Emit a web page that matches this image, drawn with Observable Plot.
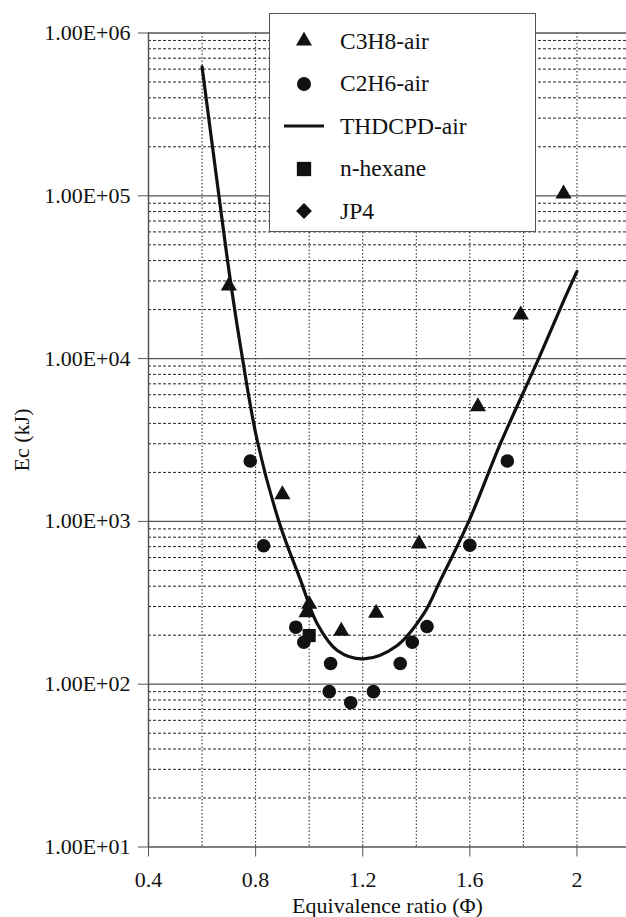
<!DOCTYPE html>
<html>
<head>
<meta charset="utf-8">
<script src="https://cdn.jsdelivr.net/npm/d3@7"></script>
<script src="https://cdn.jsdelivr.net/npm/@observablehq/plot@0.6"></script>
<style>
  html, body { margin: 0; padding: 0; background: white; }
  #wrap { position: relative; width: 626px; height: 917px; overflow: hidden; font-family: 'Liberation Serif'; }
  #chart svg text { font-family: 'Liberation Serif'; }
  #legend {
    position: absolute; left: 269px; top: 13px; width: 267px; height: 219px;
    box-sizing: border-box; border: 1.5px solid #555; background: white;
    font-family: 'Liberation Serif'; font-size: 23.5px; color: #111;
  }
  .item { position: absolute; left: 0; height: 30px; display: flex; align-items: center; }
  .item svg { width: 56px; height: 30px; }
  .item span { margin-left: 14px; }
</style>
</head>
<body>
<div id="wrap">
  <div id="chart"></div>
  <div id="legend"></div>
</div>
<script>
// ---- data ----
const c3h8Phi = [0.70, 0.90, 0.99, 1.00, 1.12, 1.25, 1.41, 1.63, 1.79, 1.95];
const c3h8Ec  = [28000, 1460, 275, 310, 212, 273, 728, 5080, 18600, 103000];

const c2h6Phi = [0.78, 0.83, 0.95, 0.98, 1.08, 1.075, 1.155, 1.24, 1.34, 1.385, 1.44, 1.60, 1.74];
const c2h6Ec  = [2350, 708, 224, 181, 134, 90, 77, 90, 134, 181, 226, 714, 2350];

const hexanePhi = [1.00];
const hexaneEc  = [199];

const thdcpdPhi = [0.60, 0.663, 0.704, 0.751, 0.806, 0.887, 0.968, 1.03, 1.105, 1.204, 1.329, 1.428, 1.49, 1.596, 1.714, 1.857, 1.951, 2.00];
const thdcpdEc  = [620000, 100000, 31600, 10000, 3140, 1000, 434, 235, 161, 143, 173, 271, 434, 1000, 3000, 10000, 22750, 34300];

const xTicks = [0.4, 0.8, 1.2, 1.6, 2];
const xGrid = [0.6, 0.8, 1.0, 1.2, 1.4, 1.6, 1.8, 2.0];
const yDecades = [1e1, 1e2, 1e3, 1e4, 1e5, 1e6];
const yMinor = yDecades.slice(0, -1).flatMap(d => [2,3,4,5,6,7,8,9].map(m => m * d));

const legendLabels = ["C3H8-air", "C2H6-air", "THDCPD-air", "n-hexane", "JP4"];
const legendKinds  = ["triangle", "circle", "line", "square", "diamond"];

// ---- tables ----
const c3h8 = c3h8Phi.map((x, i) => ({x, y: c3h8Ec[i]}));
const c2h6 = c2h6Phi.map((x, i) => ({x, y: c2h6Ec[i]}));
const hexane = hexanePhi.map((x, i) => ({x, y: hexaneEc[i]}));
const thdcpd = thdcpdPhi.map((x, i) => ({x, y: thdcpdEc[i]}));

const fmt = v => {
  const [m, e] = v.toExponential(2).split("e");
  return m + "E" + e[0] + e.slice(1).padStart(2, "0");
};

const ink = "#111";
const chart = Plot.plot({
  width: 626,
  height: 917,
  marginLeft: 148,
  marginRight: 0,
  marginTop: 32.5,
  marginBottom: 70.5,
  style: {fontFamily: "Liberation Serif", fontSize: "22px", color: ink, background: "white", overflow: "visible"},
  x: {domain: [0.4, 2.185]},
  y: {type: "log", domain: [10, 1e6]},
  marks: [
    Plot.ruleY(yMinor, {stroke: "#222", strokeWidth: 1, strokeDasharray: "3,2"}),
    Plot.ruleX(xGrid, {stroke: "#222", strokeWidth: 1, strokeDasharray: "1.5,2"}),
    Plot.ruleY(yDecades, {stroke: "#555", strokeWidth: 1.3}),
    Plot.ruleX([0.4], {stroke: "#555", strokeWidth: 1.5}),
    Plot.axisX({ticks: xTicks, tickSize: 10, tickPadding: 14, stroke: "#555", fontSize: 22, tickFormat: d => String(d),
      label: "Equivalence ratio (Φ)", labelAnchor: "center", labelArrow: "none", labelOffset: 66}),
    Plot.axisY({ticks: yDecades, tickSize: 10, tickPadding: 8, stroke: "#555", fontSize: 22, tickFormat: fmt,
      label: "Ec (kJ)", labelAnchor: "center", labelArrow: "none", labelOffset: 135}),
    Plot.line(thdcpd, {x: "x", y: "y", curve: "catmull-rom", stroke: ink, strokeWidth: 3.2}),
    Plot.dot(c2h6, {x: "x", y: "y", symbol: "circle", r: 6.8, fill: ink}),
    Plot.dot(c3h8, {x: "x", y: "y", symbol: "triangle", r: 6, fill: ink}),
    Plot.dot(hexane, {x: "x", y: "y", symbol: "square", r: 7.4, fill: ink})
  ]
});
document.getElementById("chart").append(chart);

// ---- legend ----
const legend = d3.select("#legend");
const symbolFor = {triangle: d3.symbolTriangle, circle: d3.symbolCircle, square: d3.symbolSquare, diamond: d3.symbolDiamond2};
const sizeFor = {triangle: 110, circle: 155, square: 205, diamond: 160};
legendLabels.forEach((lab, i) => {
  const it = legend.append("div").attr("class", "item").style("top", (12 + i * 42.5) + "px");
  const s = it.append("svg").attr("viewBox", "0 0 56 30");
  const k = legendKinds[i];
  if (k === "line") {
    s.append("line").attr("x1", 14).attr("x2", 54).attr("y1", 15).attr("y2", 15).attr("stroke", ink).attr("stroke-width", 3);
  } else {
    s.append("path").attr("transform", "translate(34,15)").attr("d", d3.symbol(symbolFor[k], sizeFor[k])()).attr("fill", ink);
  }
  it.append("span").text(lab);
});
</script>
</body>
</html>
